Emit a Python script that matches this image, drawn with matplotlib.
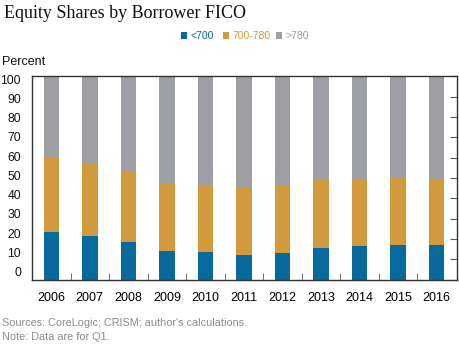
import numpy as np
import matplotlib
matplotlib.use("Agg")
import matplotlib.pyplot as plt
from matplotlib.patches import Rectangle

plt.rcParams['font.family'] = ['Liberation Sans', 'DejaVu Sans']

# Data
years = ["2006", "2007", "2008", "2009", "2010", "2011",
         "2012", "2013", "2014", "2015", "2016"]
low = [23.4, 21.6, 18.7, 14.1, 13.7, 12.3, 13.2, 15.4, 16.5, 17.0, 16.9]
low_mid_top = [59.7, 56.7, 53.1, 46.9, 46.4, 45.1, 45.9, 48.9, 49.7, 50.1, 49.7]
mid = [t - l for t, l in zip(low_mid_top, low)]
high = [100 - t for t in low_mid_top]
series_names = ["<700", "700-780", ">780"]
yticks = [0, 10, 20, 30, 40, 50, 60, 70, 80, 90, 100]

c_blue = "#086a9c"
c_orange = "#d19a3c"
c_gray = "#9d9fa5"
colors = [c_blue, c_orange, c_gray]

fig = plt.figure(figsize=(4.6, 3.58), dpi=100)
ax = fig.add_axes([0.069, 0.219, 0.924, 0.568])

x = np.arange(len(years))
w = 0.40
ax.bar(x, low, width=w, color=c_blue)
ax.bar(x, mid, width=w, bottom=low, color=c_orange)
ax.bar(x, high, width=w, bottom=low_mid_top, color=c_gray)

ax.set_xlim(-0.506, 10.52)
ax.set_ylim(0, 100)

for s in ax.spines.values():
    s.set_color("#333333")
    s.set_linewidth(1.0)

# x tick labels under bars, small tick marks between bars
ax.set_xticks(x)
ax.set_xticklabels(years, fontsize=9)
ax.tick_params(axis='x', length=0, pad=9)
ax.set_xticks(x[:-1] + 0.5, minor=True)
ax.tick_params(axis='x', which='minor', direction='in', length=5, color="#555555")

# y ticks on the right side, pointing inward; labels on the left
ax.set_yticks(yticks)
ax.yaxis.set_ticks_position('right')
ax.tick_params(axis='y', direction='in', length=5, color="#555555", labelright=False)
for v in yticks:
    ax.text(-0.025, 3.1 + v * 0.948, str(v), transform=ax.get_yaxis_transform(),
            ha='right', va='center', fontsize=8.8, color="#111111")

# Title, legend, unit label, notes
fig.text(0.008, 0.962, "Equity Shares by Borrower FICO", family="Liberation Serif",
         fontsize=13, va='center', ha='left', color="#111111")

leg_x = [0.393, 0.484, 0.599]
for lx, name, c in zip(leg_x, series_names, colors):
    fig.patches.append(Rectangle((lx, 0.891), 0.014, 0.019, transform=fig.transFigure,
                                 facecolor=c, edgecolor='none'))
    fig.text(lx + 0.021, 0.900, name, fontsize=7.5, color=c, va='center', ha='left')

fig.text(0.004, 0.826, "Percent", fontsize=9, va='center', ha='left', color="#111111")
fig.text(0.004, 0.097, "Sources: CoreLogic; CRISM; author's calculations.",
         fontsize=7.8, color="#8a8a8a", va='center', ha='left')
fig.text(0.004, 0.058, "Note: Data are for Q1.",
         fontsize=7.8, color="#8a8a8a", va='center', ha='left')

fig.savefig("out.png", dpi=100)
